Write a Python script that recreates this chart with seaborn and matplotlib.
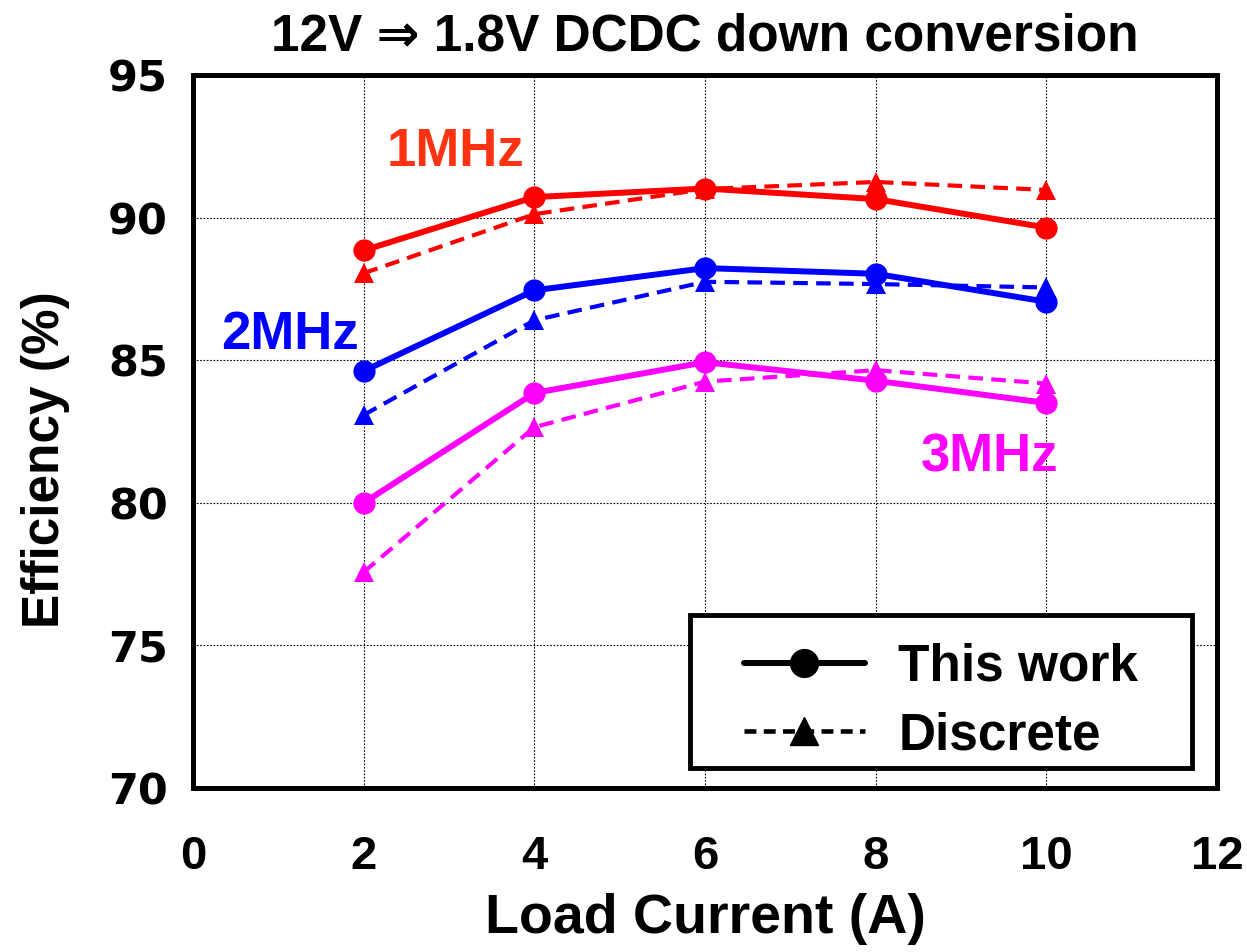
import matplotlib
matplotlib.use("Agg")
import matplotlib.pyplot as plt
import seaborn as sns
import pandas as pd
from matplotlib.lines import Line2D
from matplotlib.patches import Rectangle

load_current = [2, 4, 6, 8, 10]
freqs = ["1MHz", "2MHz", "3MHz"]
this_work_1mhz = [88.85, 90.72, 91.02, 90.65, 89.65]
discrete_1mhz = [88.05, 90.12, 91.00, 91.25, 90.97]
this_work_2mhz = [84.62, 87.45, 88.23, 88.03, 87.05]
discrete_2mhz = [83.08, 86.40, 87.75, 87.67, 87.55]
this_work_3mhz = [80.00, 83.85, 84.93, 84.28, 83.50]
discrete_3mhz = [77.57, 82.65, 84.25, 84.65, 84.18]
x_ticks = [0, 2, 4, 6, 8, 10, 12]
y_ticks = [70, 75, 80, 85, 90, 95]

rows = []
for f, tw, ds in zip(freqs, [this_work_1mhz, this_work_2mhz, this_work_3mhz],
                     [discrete_1mhz, discrete_2mhz, discrete_3mhz]):
    for x, a, b in zip(load_current, tw, ds):
        rows.append({"freq": f, "type": "This work", "I": x, "eff": a})
        rows.append({"freq": f, "type": "Discrete", "I": x, "eff": b})
df = pd.DataFrame(rows)

sns.set_theme(style="white")
plt.rcParams['font.family'] = ['Liberation Sans', 'DejaVu Sans']
plt.rcParams['text.color'] = 'black'
plt.rcParams['axes.labelcolor'] = 'black'
plt.rcParams['xtick.color'] = 'black'
plt.rcParams['ytick.color'] = 'black'

colors = {"1MHz": "#FF0000", "2MHz": "#0000FF", "3MHz": "#FF00FF"}
label_colors = {"1MHz": "#FF3311", "2MHz": "#0000FF", "3MHz": "#FF00FF"}

fig = plt.figure(figsize=(12.47, 9.52), dpi=100)
ax = fig.add_axes([0.1548, 0.1723, 0.976 - 0.1548, 0.9212 - 0.1723])

for f in freqs:
    sub = df[(df.freq == f) & (df.type == "Discrete")]
    sns.lineplot(data=sub, x="I", y="eff", ax=ax, color=colors[f], linewidth=3.0,
                 linestyle=(0, (3.5, 2)), marker="^", markersize=15, markeredgewidth=0,
                 legend=False)
    sub = df[(df.freq == f) & (df.type == "This work")]
    sns.lineplot(data=sub, x="I", y="eff", ax=ax, color=colors[f], linewidth=4.3,
                 marker="o", markersize=16, markeredgewidth=0, legend=False)

ax.set_xlim(0, 12)
ax.set_ylim(70, 95)
ax.set_xticks(x_ticks)
ax.set_yticks(y_ticks)
ax.grid(True, color="black", linestyle=(0, (1.5, 1.5)), linewidth=0.8)
ax.set_axisbelow(True)
for s in ax.spines.values():
    s.set_linewidth(3.6)
    s.set_color("black")
    s.set_visible(True)
ax.tick_params(axis="y", length=0, pad=18)
ax.tick_params(axis="x", length=0, pad=34)
for t in ax.get_yticklabels():
    t.set_fontsize(31)
    t.set_fontweight("bold")
    t.set_family(["DejaVu Sans"])
for t in ax.get_xticklabels():
    t.set_fontsize(34)
    t.set_fontweight("bold")

ax.set_xlabel("Load Current (A)", fontsize=40, fontweight="bold", labelpad=10)
ax.set_ylabel("Efficiency (%)", fontsize=37, fontweight="bold")
ax.yaxis.set_label_coords(-0.12, 0.46)
ax.set_title("12V ⇒ 1.8V DCDC down conversion", fontsize=37, fontweight="bold", pad=18)

ax.text(3.07, 92.3, "1MHz", color=label_colors["1MHz"], fontsize=38, fontweight="bold",
        ha="center", va="center")
ax.text(1.14, 85.88, "2MHz", color=label_colors["2MHz"], fontsize=38, fontweight="bold",
        ha="center", va="center")
ax.text(9.33, 81.6, "3MHz", color=label_colors["3MHz"], fontsize=38, fontweight="bold",
        ha="center", va="center")

handles = [
    Line2D([0], [0], color="black", linewidth=4.3, marker="o", markersize=20),
    Line2D([0], [0], color="black", linewidth=3.3, linestyle=(0, (2.6, 1.6)), marker="^",
           markersize=20),
]
hpad = 36.0 / 1024.0
vshift = 10.0 / 713.0
leg = ax.legend(handles, ["This work", "Discrete"], loc="lower right",
                bbox_to_anchor=(0.9756 - hpad, 0.028 - vshift),
                prop={"size": 37, "weight": "bold"},
                frameon=False, handlelength=2.35,
                borderpad=0.35, labelspacing=0.38, handletextpad=0.65, borderaxespad=0)

fig.canvas.draw()
bb = leg.get_window_extent().transformed(ax.transAxes.inverted())
ax.add_patch(Rectangle((bb.x0 - hpad, bb.y0 + vshift), bb.width + 2 * hpad, bb.height,
                       transform=ax.transAxes, facecolor="white", edgecolor="black",
                       linewidth=3.5, zorder=4.5))
leg.set_zorder(5)

fig.savefig("out.png", dpi=100)
